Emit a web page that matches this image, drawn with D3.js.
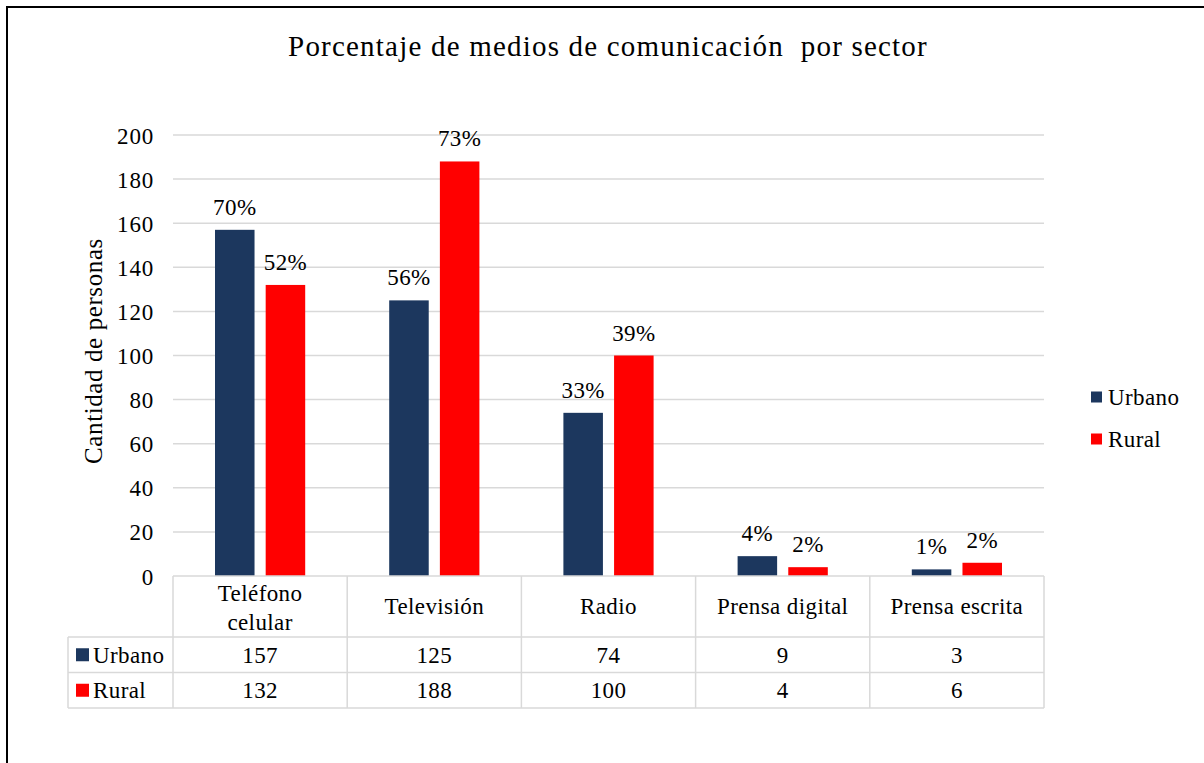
<!DOCTYPE html>
<html>
<head>
<meta charset="utf-8">
<script src="https://cdn.jsdelivr.net/npm/d3@7"></script>
<style>
  body { margin: 0; background: #fff; }
  svg text { font-family: "Liberation Serif", "Times New Roman", serif; fill: #000; }
</style>
</head>
<body>
<svg id="chart" width="1204" height="763" font-family="Liberation Serif"></svg>
<script>
// data
var categories = ["Teléfono celular", "Televisión", "Radio", "Prensa digital", "Prensa escrita"];
var catLines = [["Teléfono", "celular"], ["Televisión"], ["Radio"], ["Prensa digital"], ["Prensa escrita"]];
var seriesNames = ["Urbano", "Rural"];
var urbano = [157, 125, 74, 9, 3];
var rural = [132, 188, 100, 4, 6];
var urbanoPct = ["70%", "56%", "33%", "4%", "1%"];
var ruralPct = ["52%", "73%", "39%", "2%", "2%"];
var yTicks = [0, 20, 40, 60, 80, 100, 120, 140, 160, 180, 200];

var colors = { Urbano: "#1c375e", Rural: "#ff0000" };
var gridColor = "#d9d9d9";
var fontSize = "23px";
var spacing = "0.4px";

var margin = { top: 135, left: 173, right: 160, bottom: 187 };
var width = 1044 - margin.left;
var height = 576 - margin.top;

var svg = d3.select("#chart");

// outer frame
svg.append("rect")
  .attr("x", 7).attr("y", 7)
  .attr("width", 1210).attr("height", 780)
  .attr("fill", "none").attr("stroke", "#000").attr("stroke-width", 2);

// title
svg.append("text")
  .attr("x", 608).attr("y", 56)
  .attr("text-anchor", "middle")
  .style("font-size", "29px")
  .style("letter-spacing", "1.2px")
  .style("white-space", "pre")
  .text("Porcentaje de medios de comunicación  por sector");

var x = d3.scaleBand().domain(categories).range([0, width]).paddingInner(0).paddingOuter(0);
var x1 = d3.scaleBand().domain(seriesNames).range([42, x.bandwidth() - 42]).paddingInner(0.22);
var y = d3.scaleLinear().domain([0, 200]).range([height, 0]);

var g = svg.append("g").attr("transform", "translate(" + margin.left + "," + margin.top + ")");

// grid
g.append("g").selectAll("line").data(yTicks.slice(1)).enter().append("line")
  .attr("x1", 0).attr("x2", width)
  .attr("y1", function (d) { return y(d); }).attr("y2", function (d) { return y(d); })
  .attr("stroke", gridColor).attr("stroke-width", 1.5);

// y axis (labels only)
var yAxis = g.append("g").call(d3.axisLeft(y).tickValues(yTicks).tickSize(0).tickPadding(19));
yAxis.attr("font-family", null).attr("font-size", null);
yAxis.select(".domain").remove();
yAxis.selectAll("text")
  .style("font-size", fontSize)
  .style("letter-spacing", "0.8px")
  .attr("dy", "0.35em");

// y title
svg.append("text")
  .attr("transform", "translate(102,351) rotate(-90)")
  .attr("text-anchor", "middle")
  .style("font-size", "25px")
  .style("letter-spacing", "0.6px")
  .text("Cantidad de personas");

// bars
var rows = categories.map(function (c, i) {
  return { cat: c, vals: [
    { s: "Urbano", v: urbano[i], p: urbanoPct[i] },
    { s: "Rural", v: rural[i], p: ruralPct[i] }
  ] };
});

var groups = g.selectAll(".grp").data(rows).enter().append("g")
  .attr("transform", function (d) { return "translate(" + x(d.cat) + ",0)"; });

groups.selectAll("rect").data(function (d) { return d.vals; }).enter().append("rect")
  .attr("x", function (d) { return x1(d.s); })
  .attr("y", function (d) { return y(d.v); })
  .attr("width", x1.bandwidth())
  .attr("height", function (d) { return height - y(d.v); })
  .attr("fill", function (d) { return colors[d.s]; });

groups.selectAll(".lbl").data(function (d) { return d.vals; }).enter().append("text")
  .attr("x", function (d) { return x1(d.s) + x1.bandwidth() / 2; })
  .attr("y", function (d) { return y(d.v) - 15; })
  .attr("text-anchor", "middle")
  .style("font-size", fontSize)
  .style("letter-spacing", spacing)
  .text(function (d) { return d.p; });

// data table
var tableLeft = 68 - margin.left;
var rowH = 35.5;
var headerBottom = 61;
var tbl = g.append("g").attr("transform", "translate(0," + height + ")");

// horizontal lines
tbl.append("line").attr("x1", 0).attr("x2", width).attr("y1", 0).attr("y2", 0)
  .attr("stroke", gridColor).attr("stroke-width", 1.5);
[headerBottom, headerBottom + rowH, headerBottom + 2 * rowH].forEach(function (yy) {
  tbl.append("line").attr("x1", tableLeft).attr("x2", width).attr("y1", yy).attr("y2", yy)
    .attr("stroke", gridColor).attr("stroke-width", 1.5);
});
// vertical lines
var bounds = categories.map(function (c) { return x(c); }).concat([width]);
bounds.forEach(function (bx) {
  tbl.append("line").attr("x1", bx).attr("x2", bx).attr("y1", 0).attr("y2", headerBottom + 2 * rowH)
    .attr("stroke", gridColor).attr("stroke-width", 1.5);
});
tbl.append("line").attr("x1", tableLeft).attr("x2", tableLeft)
  .attr("y1", headerBottom).attr("y2", headerBottom + 2 * rowH)
  .attr("stroke", gridColor).attr("stroke-width", 1.5);

// category header labels
tbl.selectAll(".cat").data(catLines).enter().append("text")
  .attr("x", function (d, i) { return x(categories[i]) + x.bandwidth() / 2; })
  .attr("y", function (d) { return d.length > 1 ? 25 : 38; })
  .attr("text-anchor", "middle")
  .style("font-size", fontSize)
  .style("letter-spacing", spacing)
  .each(function (d) {
    var t = d3.select(this);
    d.forEach(function (line, k) {
      t.append("tspan").attr("x", t.attr("x")).attr("dy", k === 0 ? 0 : 29).text(line);
    });
  });

// table rows
[urbano, rural].forEach(function (vals, r) {
  var yy = headerBottom + r * rowH + rowH / 2;
  var name = seriesNames[r];
  tbl.append("rect").attr("x", tableLeft + 8).attr("y", yy - 6.5).attr("width", 13).attr("height", 13)
    .attr("fill", colors[name]);
  tbl.append("text").attr("x", tableLeft + 25).attr("y", yy).attr("dy", "0.35em")
    .style("font-size", fontSize).style("letter-spacing", spacing).text(name);
  vals.forEach(function (v, i) {
    tbl.append("text")
      .attr("x", x(categories[i]) + x.bandwidth() / 2)
      .attr("y", yy).attr("dy", "0.35em")
      .attr("text-anchor", "middle")
      .style("font-size", fontSize)
      .style("letter-spacing", spacing)
      .text(v);
  });
});

// legend
var legend = svg.append("g").attr("transform", "translate(1091,397)");
seriesNames.forEach(function (s, i) {
  var row = legend.append("g").attr("transform", "translate(0," + i * 42 + ")");
  row.append("rect").attr("x", 0).attr("y", -5.5).attr("width", 11).attr("height", 11).attr("fill", colors[s]);
  row.append("text").attr("x", 17).attr("y", 0).attr("dy", "0.35em")
    .style("font-size", fontSize).style("letter-spacing", spacing).text(s);
});
</script>
</body>
</html>
